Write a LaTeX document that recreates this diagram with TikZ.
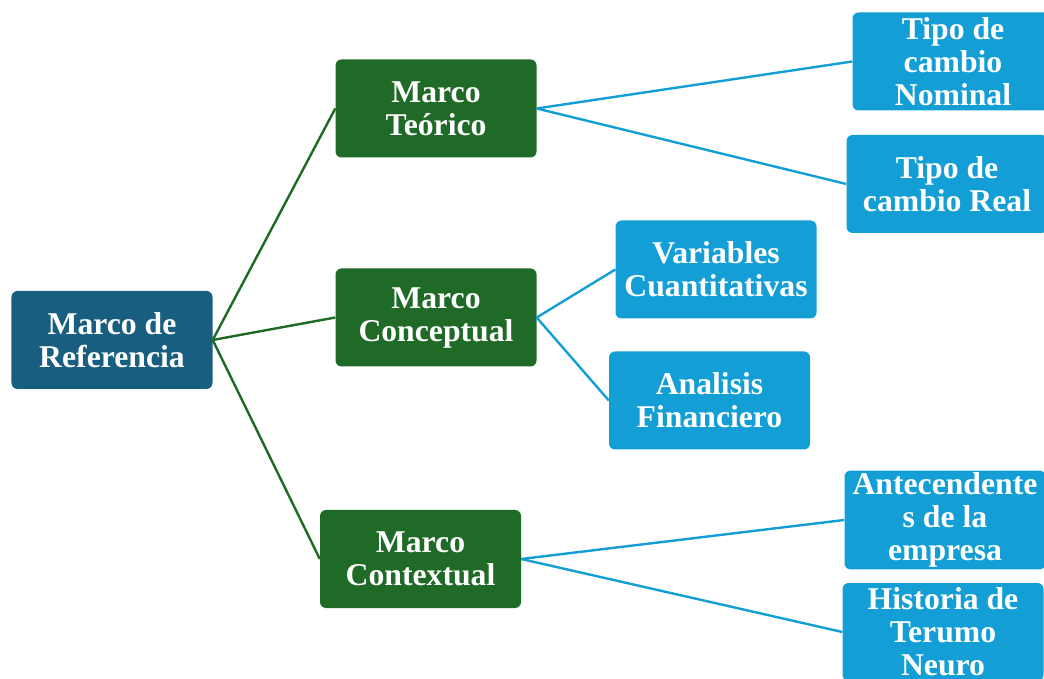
\documentclass[tikz,border=0pt]{standalone}
\usepackage{fontspec}
\setmainfont{Liberation Serif}
\usepackage{tikz}
\usetikzlibrary{positioning}

\definecolor{refblue}{RGB}{24,94,128}
\definecolor{marcogreen}{RGB}{30,106,38}
\definecolor{leafblue}{RGB}{19,159,213}

\begin{document}
\begin{tikzpicture}[x=1pt,y=1pt,on grid,
                    box/.style={rectangle,rounded corners=6pt,text=white,align=center,
                      minimum width=201pt,minimum height=98pt,inner sep=2pt,
                      font=\bfseries\fontsize{31.7}{33}\selectfont},
                    ref node/.style={box,fill=refblue},
                    main node/.style={box,fill=marcogreen},
                    leaf node/.style={box,fill=leafblue}]

  \useasboundingbox (-112,340) rectangle (932,-339);

  \node[ref node] (ref) {Marco de\\Referencia};
  \node[main node] (teo) [above right=231.5pt and 324pt of ref] {Marco\\Teórico};
  \node[main node] (con) [above right=22.5pt and 324pt of ref] {Marco\\Conceptual};
  \node[main node] (ctx) [below right=219pt and 308.5pt of ref] {Marco\\Contextual};

  \node[leaf node] (nom) [above right=47pt and 517pt of teo] {Tipo de\\cambio\\Nominal};
  \node[leaf node] (real) [below right=75.5pt and 511pt of teo] {Tipo de\\cambio Real};
  \node[leaf node] (var) [above right=48pt and 280pt of con] {Variables\\Cuantitativas};
  \node[leaf node] (ana) [below right=83pt and 273.5pt of con] {Analisis\\Financiero};
  \node[leaf node] (ant) [above right=39pt and 524.5pt of ctx] {Antecendente\\s de la\\empresa};
  \node[leaf node] (his) [below right=73pt and 522.5pt of ctx] {Historia de\\Terumo\\Neuro};

  \path[every edge/.style={draw=marcogreen,line width=2.4pt}]
    (ref.east) edge (teo.west)
               edge (con.west)
               edge (ctx.west);

  \path[every edge/.style={draw=leafblue,line width=2.4pt}]
    (teo.east) edge (nom.west)
               edge (real.west)
    (con.east) edge (var.west)
               edge (ana.west)
    (ctx.east) edge (ant.west)
               edge (his.west);
\end{tikzpicture}
\end{document}
